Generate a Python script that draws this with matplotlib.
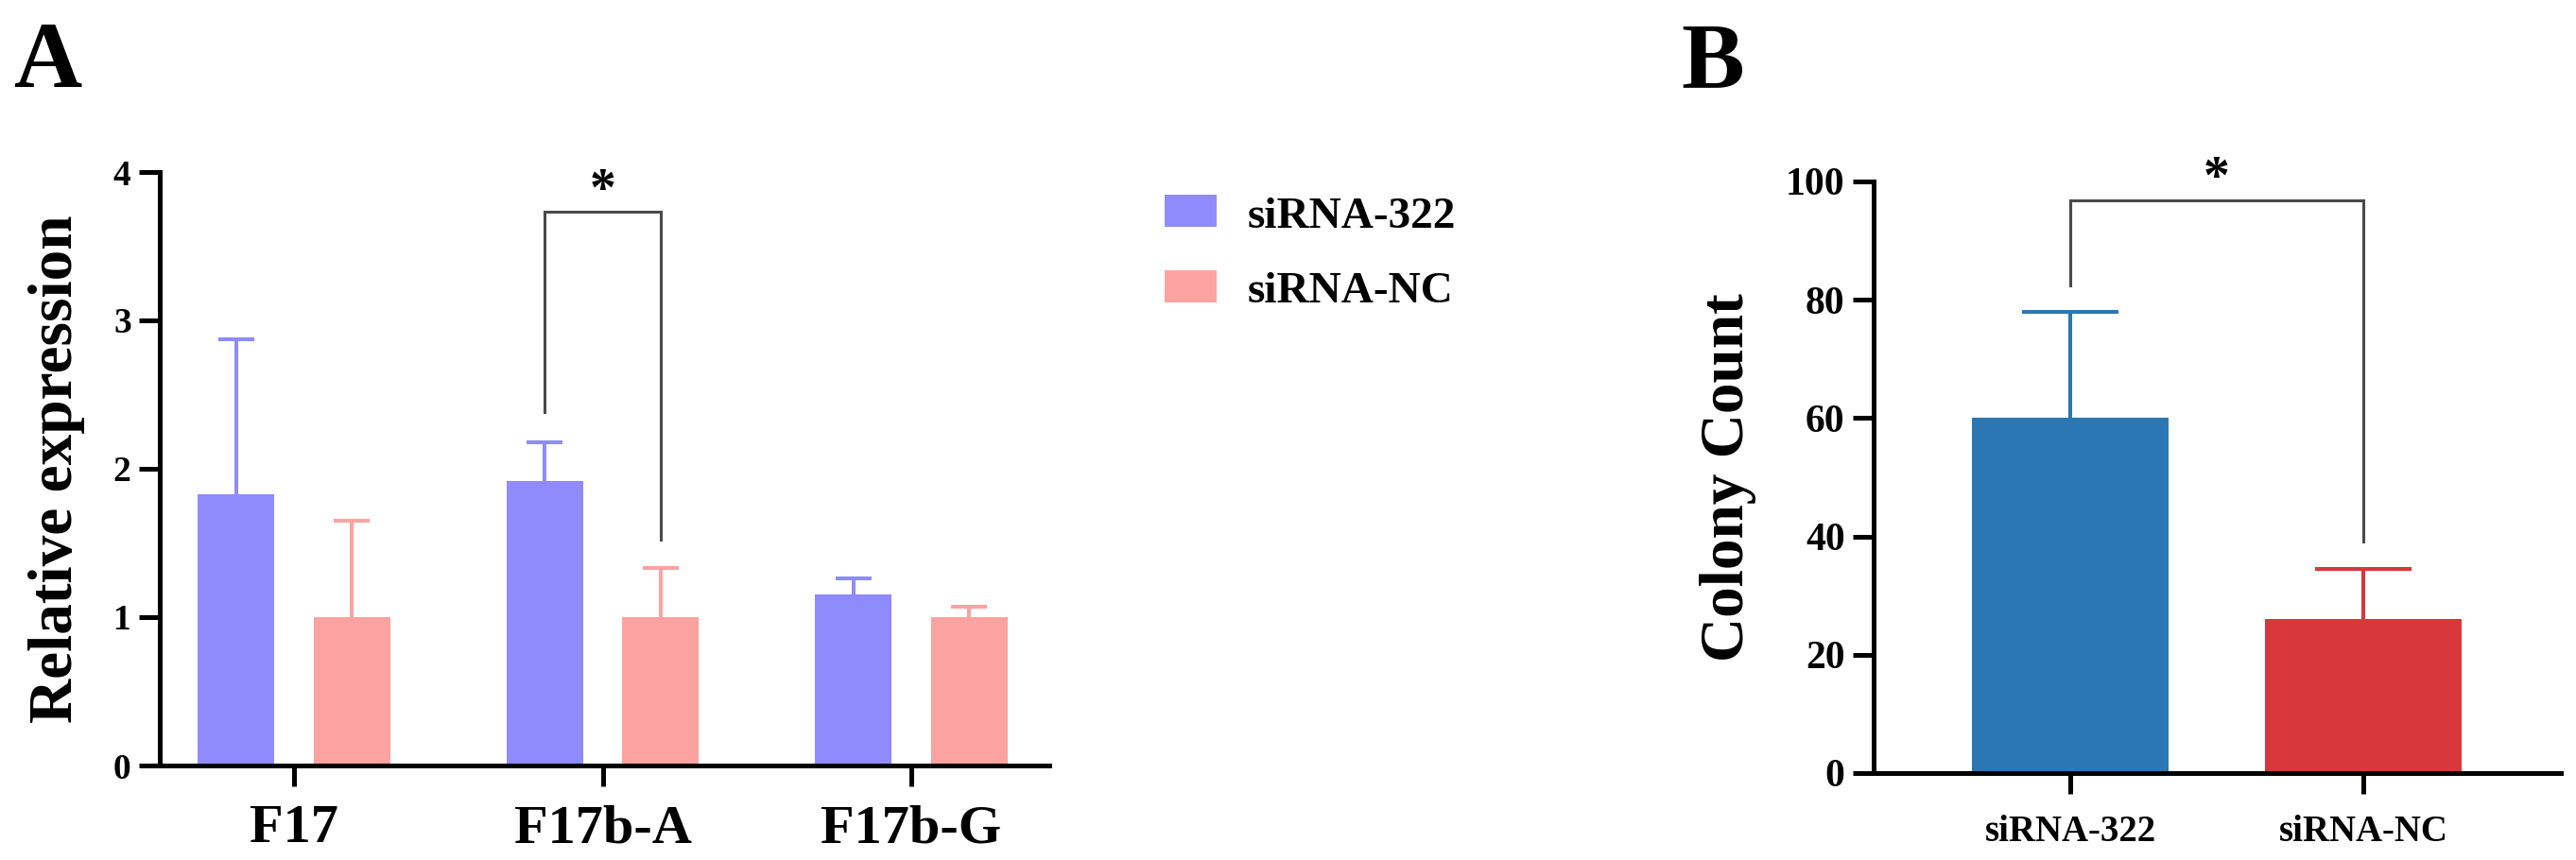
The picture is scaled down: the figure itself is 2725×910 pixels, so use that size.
import matplotlib
matplotlib.use('Agg')
import matplotlib.pyplot as plt
import numpy as np
from matplotlib.patches import Rectangle

# ---------------- data ----------------
genes = ['F17', 'F17b-A', 'F17b-G']
sirna322_mean = [1.83, 1.92, 1.15]
sirna322_err = [1.04, 0.26, 0.11]
sirnanc_mean = [1.0, 1.0, 1.0]
sirnanc_err = [0.65, 0.33, 0.07]
series_names = ['siRNA-322', 'siRNA-NC']

colony_groups = ['siRNA-322', 'siRNA-NC']
colony_mean = [60, 26]
colony_err = [18, 8.5]

yticks_a = [0, 1, 2, 3, 4]
yticks_b = [0, 20, 40, 60, 80, 100]

# ---------------- style ----------------
plt.rcParams['font.family'] = ['Liberation Serif', 'DejaVu Serif']
plt.rcParams['font.weight'] = 'bold'

W, H = 2725, 910
fig = plt.figure(figsize=(W / 100, H / 100), dpi=100)


def fx(x):
    return x / W


def fy(y):
    return 1 - y / H


c_blue_a = '#8F8BFC'
c_pink_a = '#FCA2A0'
c_blue_b = '#2A77B4'
c_red_b = '#D8383A'
c_brk = '#4a4a4a'

spine_w = 3.6
tick_len = 15.8


def upper_errorbar(ax, xs, ys, errs, color, capsize):
    n = len(ys)
    cont = ax.errorbar(xs, ys, yerr=[np.zeros(n), errs], fmt='none', ecolor=color,
                       elinewidth=2.9, capsize=capsize, capthick=2.9, zorder=1)
    caps = cont[1]
    if len(caps) > 0:
        caps[0].set_visible(False)  # hide the cap sitting on top of the bar
    return cont


# ---------------- Panel A ----------------
axA = fig.add_axes([fx(169), fy(810), fx(1110 - 169), (810 - 182) / H])
x = np.arange(len(genes))
off = 0.188
bw = 0.248
axA.bar(x - off, sirna322_mean, width=bw, color=c_blue_a, zorder=2)
axA.bar(x + off, sirnanc_mean, width=bw, color=c_pink_a, zorder=2)
upper_errorbar(axA, x - off, sirna322_mean, sirna322_err, c_blue_a, 14)
upper_errorbar(axA, x + off, sirnanc_mean, sirnanc_err, c_pink_a, 14)
axA.set_xlim(-0.435, 2.447)
axA.set_ylim(0, 4)
axA.set_yticks(yticks_a)
axA.set_xticks(x)
axA.set_xticklabels(genes, fontsize=42, fontweight='bold')
axA.tick_params(axis='y', labelsize=27, direction='out', length=tick_len, width=spine_w, pad=6)
axA.tick_params(axis='x', direction='out', length=tick_len, width=spine_w, pad=14)
for s in ['top', 'right']:
    axA.spines[s].set_visible(False)
for s in ['left', 'bottom']:
    axA.spines[s].set_linewidth(spine_w)
axA.set_ylabel('Relative expression', fontsize=47, fontweight='bold')
axA.yaxis.set_label_coords(-0.084, 0.5)

# significance bracket A
bx1, bx2 = 1 - off, 1 + off
axA.plot([bx1, bx1, bx2, bx2], [2.38, 3.73, 3.73, 1.52], color=c_brk, lw=2.2,
         clip_on=False, solid_joinstyle='miter', zorder=3)
axA.text(1.0, 3.78, '*', ha='center', va='baseline', fontsize=40, fontweight='bold',
         clip_on=False)

# legend (manual)
for i, (name, col) in enumerate(zip(series_names, [c_blue_a, c_pink_a])):
    top = 206 + i * 80
    fig.patches.append(Rectangle((fx(1232), fy(top + 34)), fx(55), 34 / H,
                                 transform=fig.transFigure, color=col, lw=0))
    fig.text(fx(1320), fy(241 + i * 79), name, fontsize=34, fontweight='bold',
             ha='left', va='baseline')

# ---------------- Panel B ----------------
axB = fig.add_axes([fx(1982), fy(818), fx(2709 - 1982), (818 - 192) / H])
xb = np.arange(len(colony_groups))
axB.bar(xb, colony_mean, width=0.668, color=[c_blue_b, c_red_b], zorder=2)
for xi, m, e, col in zip(xb, colony_mean, colony_err, [c_blue_b, c_red_b]):
    upper_errorbar(axB, [xi], [m], [e], col, 37)
axB.set_xlim(-0.671, 1.674)
axB.set_ylim(0, 100)
axB.set_yticks(yticks_b)
axB.set_xticks(xb)
axB.set_xticklabels(colony_groups, fontsize=28, fontweight='bold')
axB.tick_params(axis='y', labelsize=30, direction='out', length=tick_len, width=spine_w, pad=6)
axB.tick_params(axis='x', direction='out', length=tick_len, width=spine_w, pad=16)
for s in ['top', 'right']:
    axB.spines[s].set_visible(False)
for s in ['left', 'bottom']:
    axB.spines[s].set_linewidth(spine_w)
axB.set_ylabel('Colony Count', fontsize=47, fontweight='bold')
axB.yaxis.set_label_coords(-0.1706, 0.5)

axB.plot([0, 0, 1, 1], [82.4, 96.8, 96.8, 39.1], color=c_brk, lw=2.2,
         clip_on=False, solid_joinstyle='miter', zorder=3)
axB.text(0.5, 98.1, '*', ha='center', va='baseline', fontsize=40, fontweight='bold',
         clip_on=False)

# panel letters
fig.text(fx(15), fy(92), 'A', fontsize=72, fontweight='bold', ha='left', va='baseline')
fig.text(fx(1778), fy(92), 'B', fontsize=72, fontweight='bold', ha='left', va='baseline')

fig.savefig('out.png', dpi=100)
